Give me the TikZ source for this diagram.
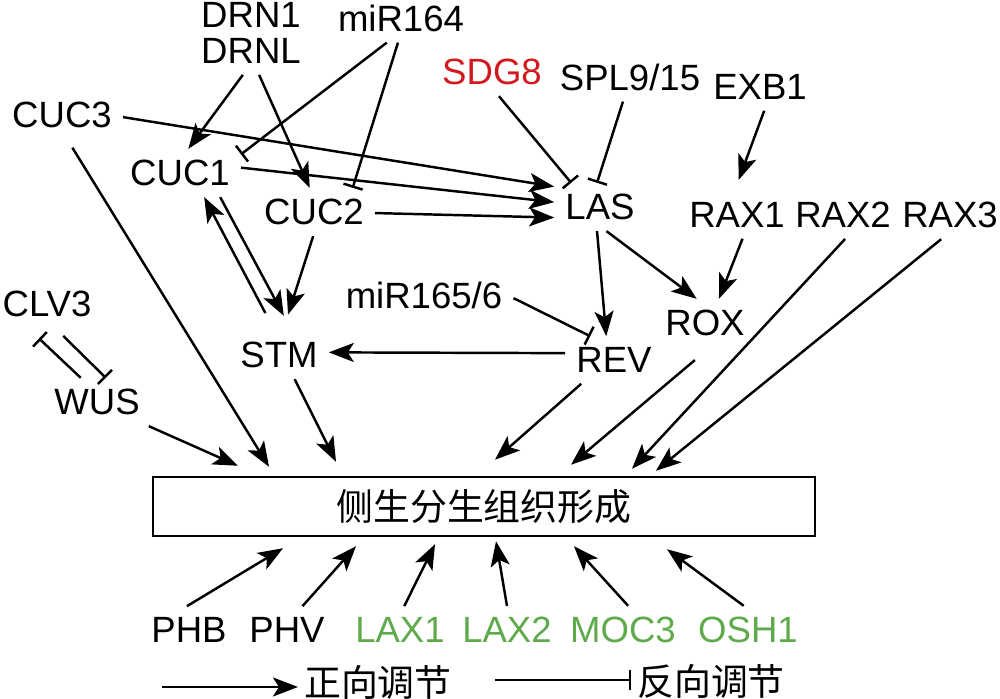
\documentclass[tikz,border=0pt]{standalone}
\usepackage{fontspec}
\setmainfont{Liberation Sans}
\newfontfamily\cjk{Noto Sans CJK SC}
\usetikzlibrary{arrows.meta}
\definecolor{sdgred}{RGB}{210,25,30}
\definecolor{laxgreen}{RGB}{95,170,75}
\tikzset{
  gene/.style={inner sep=1mm, font=\fontsize{10.4}{10.3}\selectfont},
  hanzi/.style={inner sep=0.5mm, font=\cjk\fontsize{10.5}{12}\selectfont},
  promote/.style={-{Stealth[length=2.5mm,width=1.9mm,inset=0.6mm]}},
  repress/.style={-{Bar[width=2mm]}}
}

\begin{document}
\begin{tikzpicture}[x=0.1mm,y=-0.1mm,line width=0.7pt]
\useasboundingbox (0,0) rectangle (1000,699);

\node[gene,align=center] (drn) at (251,33) {DRN1\\DRNL}; \node[gene] (mir164) at (401,18) {miR164};
\node[gene] (cuc3) at (62,115) {CUC3}; \node[gene] (cuc1) at (180,173) {CUC1}; \node[gene] (cuc2) at (314,212) {CUC2};
\node[gene,text=sdgred] (sdg8) at (492,72) {SDG8}; \node[gene] (spl) at (630,77) {SPL9/15}; \node[gene] (exb1) at (760,87) {EXB1};
\node[gene] (las) at (600,207) {LAS};
\node[gene] (rax1) at (737,215) {RAX1}; \node[gene] (rax2) at (843,215) {RAX2}; \node[gene] (rax3) at (950,215) {RAX3};
\node[gene] (clv3) at (47,304) {CLV3}; \node[gene] (mir165) at (424,295) {miR165/6}; \node[gene] (rox) at (705,323) {ROX};
\node[gene] (stm) at (279,355) {STM}; \node[gene] (rev) at (614,360) {REV}; \node[gene] (wus) at (97,402) {WUS};

\node[draw,minimum width=66.2mm,minimum height=5.9mm,hanzi] (box) at (484,506.5) {侧生分生组织形成};

\node[gene] (phb) at (189,630) {PHB}; \node[gene] (phv) at (287,630) {PHV};
\node[gene,text=laxgreen] (lax1) at (400,630) {LAX1}; \node[gene,text=laxgreen] (lax2) at (507,630) {LAX2};
\node[gene,text=laxgreen] (moc3) at (623,630) {MOC3}; \node[gene,text=laxgreen] (osh1) at (748,630) {OSH1};

% upstream of CUC and LAS
\draw[promote] (drn.259) -- (cuc1.71); \draw[promote] (drn.281) -- (cuc2.100);
\draw[repress] (mir164.240) -- (cuc1.17); \draw[repress] (mir164.263) -- (cuc2.32);
\draw[promote] (cuc3.-2) -- (las.156); \draw[promote] (cuc1.5) -- (las.174); \draw[promote] (cuc2.-1) -- (las.193);
\draw[repress] (sdg8.286) -- (las.140); \draw[repress] (spl.254) -- (las.97);
\draw[promote,shorten >=1.2mm] (exb1.280) -- (rax1.96);

\draw[promote] (las.263) -- (rev.108); \draw[promote] (las.285) -- (rox.109); \draw[promote] (rax1.283) -- (rox.60);
\draw[repress] (mir165.-2) -- (rev.135); \draw[promote] (rev.172) -- (stm.3);
\draw[promote,shorten >=1.7mm] (cuc1.329) -- (stm.62); \draw[promote,shorten <=2mm] (stm.100) -- (cuc1.315);
\draw[promote,shorten >=1.7mm] (cuc2.268) -- (stm.81);
\draw[repress,shorten <=1.1mm] (clv3.289) -- (wus.70); \draw[repress,shorten >=1.5mm] (wus.124) -- (clv3.232);

% into the box
\draw[promote] (wus.335) -- ([shift={(-246,-10)}]box.north);
\draw[promote,shorten <=1mm] (cuc3.282) -- ([shift={(-215,-9)}]box.north);
\draw[promote] (stm.303) -- ([shift={(-148,-14)}]box.north);
\draw[promote] (rev.216) -- ([shift={(11,-16)}]box.north);
\draw[promote,shorten <=2mm] (rox.282) -- ([shift={(87,-11)}]box.north);
\draw[promote] (rax2.275) -- ([shift={(148,-7)}]box.north);
\draw[promote] (rax3.250) -- ([shift={(172,-5)}]box.north);

\draw[promote] (phb.95) -- ([shift={(-201,11)}]box.south); \draw[promote] (phv.57) -- ([shift={(-128,9)}]box.south);
\draw[promote] (lax1.80) -- ([shift={(-49,7)}]box.south); \draw[promote] (lax2.90) -- ([shift={(12,4)}]box.south);
\draw[promote] (moc3.78) -- ([shift={(90,9)}]box.south); \draw[promote] (osh1.100) -- ([shift={(183,12)}]box.south);

% key
\coordinate (keya) at (162,687); \node[hanzi] (keyup) at (378,682) {正向调节};
\draw[promote] (keya) -- (keyup.west |- keya);
\coordinate (keyb) at (495,680); \node[hanzi] (keydown) at (711,682) {反向调节};
\draw[repress] (keyb) -- (keydown.west |- keyb);
\end{tikzpicture}
\end{document}
